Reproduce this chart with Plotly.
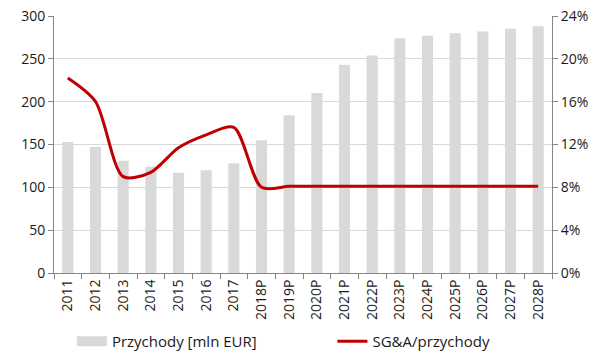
import plotly.graph_objects as go

years = ["2011", "2012", "2013", "2014", "2015", "2016", "2017", "2018P", "2019P",
         "2020P", "2021P", "2022P", "2023P", "2024P", "2025P", "2026P", "2027P", "2028P"]
revenue = [153, 147, 131, 124, 117, 120, 128, 155, 184,
           210, 243, 254, 274, 277, 280, 282, 285, 288]
sga_ratio = [18.2, 16.0, 9.0, 9.4, 11.7, 12.9, 13.6, 8.0, 8.1,
             8.1, 8.1, 8.1, 8.1, 8.1, 8.1, 8.1, 8.1, 8.1]

BAR_COLOR = "#d9d9d9"
LINE_COLOR = "#c00000"
AXIS_COLOR = "#868686"

fig = go.Figure()
fig.add_trace(go.Bar(
    x=years, y=revenue, name="Przychody [mln EUR]", showlegend=False,
    marker=dict(color=BAR_COLOR, line=dict(width=0)), width=0.4,
))
# wide rectangular legend swatch for the revenue bars
fig.add_trace(go.Scatter(
    x=[None], y=[None], name="Przychody [mln EUR]", mode="lines",
    line=dict(color=BAR_COLOR, width=10), legend="legend",
))
fig.add_trace(go.Scatter(
    x=years, y=sga_ratio, name="SG&A/przychody", yaxis="y2", legend="legend2",
    mode="lines", line=dict(color=LINE_COLOR, width=3, shape="spline", smoothing=0.8),
))

legend_common = dict(orientation="h", xref="container", yref="container",
                     xanchor="left", y=-0.015, yanchor="bottom",
                     font=dict(family="Open Sans", size=15), bgcolor="rgba(0,0,0,0)")

fig.update_layout(
    width=599, height=358,
    margin=dict(l=54, r=47, t=16, b=85, autoexpand=False),
    paper_bgcolor="white", plot_bgcolor="white",
    font=dict(family="Open Sans", size=14, color="#1a1a1a"),
    showlegend=True,
    legend=dict(x=0.12, **legend_common),
    legend2=dict(x=0.555, **legend_common),
    xaxis=dict(type="category", tickangle=-90, showline=True, linecolor=AXIS_COLOR,
               ticks="outside", ticklen=5, tickcolor=AXIS_COLOR, tickson="boundaries",
               showgrid=False, tickfont=dict(size=14)),
    yaxis=dict(range=[0, 300], dtick=50, showline=True, linecolor=AXIS_COLOR,
               ticks="outside", ticklen=5, tickcolor=AXIS_COLOR,
               gridcolor=BAR_COLOR, gridwidth=1, zeroline=False),
    yaxis2=dict(range=[0, 24], dtick=4, overlaying="y", side="right", ticksuffix="%",
                showline=True, linecolor=AXIS_COLOR, ticks="outside", ticklen=5,
                tickcolor=AXIS_COLOR, showgrid=False, zeroline=False),
)

fig.write_html("out.html")
